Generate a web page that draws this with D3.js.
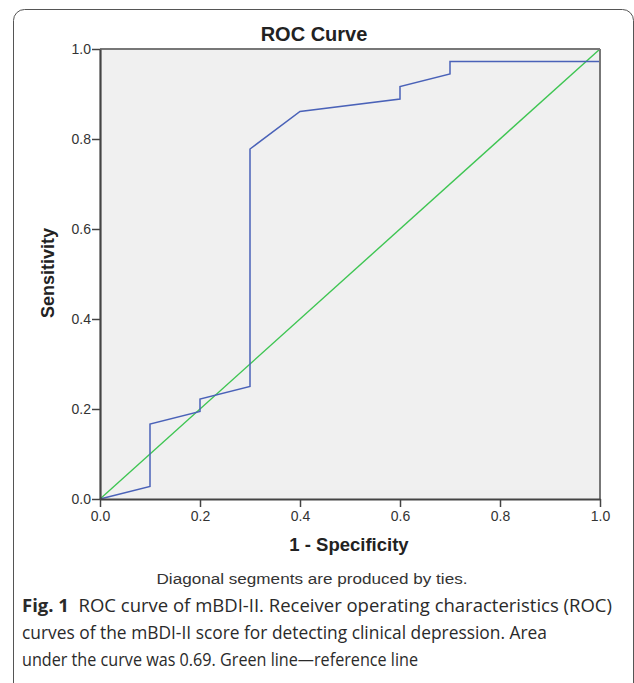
<!DOCTYPE html>
<html><head><meta charset="utf-8">
<script src="https://cdn.jsdelivr.net/npm/d3@7"></script>
<style>html,body{margin:0;padding:0;background:#fff;}svg{display:block;}
.axis text{font-family:"Liberation Sans",Arial,sans-serif;font-size:14px;fill:#333;}</style>
</head><body>
<svg id="c" width="634" height="683"></svg>
<script>
// ROC curve points (1 - Specificity, Sensitivity)
const fpr = [0, 0.1, 0.1, 0.2, 0.2, 0.3, 0.3, 0.4, 0.6, 0.6, 0.7, 0.7, 1.0, 1.0];
const tpr = [0, 1/36, 6/36, 7/36, 8/36, 9/36, 28/36, 31/36, 32/36, 33/36, 34/36, 35/36, 35/36, 1.0];
const refX = [0, 1];
const refY = [0, 1];
const tickValues = [0, 0.2, 0.4, 0.6, 0.8, 1.0];
const titleText = "ROC Curve";
const xTitle = "1 - Specificity";
const yTitle = "Sensitivity";
const note = "Diagonal segments are produced by ties.";
const captionLines = [
  ["Fig. 1", "  ROC curve of mBDI-II. Receiver operating characteristics (ROC)"],
  ["", "curves of the mBDI-II score for detecting clinical depression. Area"],
  ["", "under the curve was 0.69. Green line\u2014reference line"]
];
const captionWidths = [590, 525, 396];

const svg = d3.select("#c");
const sans = "Liberation Sans, Arial, sans-serif";
// outer frame
svg.append("rect").attr("x", 13.5).attr("y", 9.5).attr("width", 620).attr("height", 700)
  .attr("rx", 11).attr("fill", "none").attr("stroke", "#555").attr("stroke-width", 1);

const x = d3.scaleLinear().domain([0, 1]).range([100, 600]);
const y = d3.scaleLinear().domain([0, 1]).range([499, 49]);

svg.append("rect").attr("x", x(0)).attr("y", y(1)).attr("width", x(1) - x(0)).attr("height", y(0) - y(1))
  .attr("fill", "#f0f0f0");

const line = d3.line().x(d => x(d[0])).y(d => y(d[1]));
svg.append("path").datum(refX.map((v, i) => [v, refY[i]])).attr("d", line)
  .attr("fill", "none").attr("stroke", "#3ec552").attr("stroke-width", 1.4);
svg.append("path").datum(fpr.map((v, i) => [v, tpr[i]])).attr("d", line)
  .attr("fill", "none").attr("stroke", "#4a62b8").attr("stroke-width", 1.5);

// top & right frame
svg.append("line").attr("x1", x(0)).attr("x2", x(1)).attr("y1", y(1)).attr("y2", y(1))
  .attr("stroke", "#777").attr("stroke-width", 2);
svg.append("line").attr("x1", x(1)).attr("x2", x(1)).attr("y1", y(1)).attr("y2", y(0))
  .attr("stroke", "#777").attr("stroke-width", 2);

const fmt = d3.format(".1f");
const ax = svg.append("g").attr("class", "axis").attr("transform", `translate(0,${y(0)})`)
  .call(d3.axisBottom(x).tickValues(tickValues).tickFormat(fmt).tickSize(8).tickSizeOuter(0));
const ay = svg.append("g").attr("class", "axis").attr("transform", `translate(${x(0)},0)`)
  .call(d3.axisLeft(y).tickValues(tickValues).tickFormat(fmt).tickSize(8).tickSizeOuter(0));
[ax, ay].forEach(g => {
  g.attr("font-size", 14).attr("font-family", sans);
  g.select(".domain").attr("stroke", "#444").attr("stroke-width", 2.2);
  g.selectAll(".tick line").attr("stroke", "#444").attr("stroke-width", 1.5);
  g.selectAll(".tick text").attr("font-size", 14).attr("fill", "#333");
});
ax.selectAll(".tick text").attr("y", 10).attr("dy", "0.85em");
ay.selectAll(".tick text").attr("x", -9);

svg.append("text").attr("x", 314).attr("y", 41).attr("text-anchor", "middle")
  .style("font-family", sans).attr("font-weight", "bold").style("font-size", "20px")
  .attr("fill", "#222").text(titleText);
svg.append("text").attr("x", 349).attr("y", 551).attr("text-anchor", "middle")
  .style("font-family", sans).attr("font-weight", "bold").style("font-size", "18.5px")
  .attr("fill", "#222").text(xTitle);
svg.append("text").attr("transform", "translate(54,273) rotate(-90)").attr("text-anchor", "middle")
  .style("font-family", sans).attr("font-weight", "bold").style("font-size", "18px")
  .attr("fill", "#222").text(yTitle);
svg.append("text").attr("x", 312).attr("y", 584).attr("text-anchor", "middle")
  .style("font-family", sans).style("font-size", "15.5px")
  .attr("textLength", 311).attr("lengthAdjust", "spacingAndGlyphs")
  .attr("fill", "#333").text(note);

const cap = svg.append("g").style("font-family", "Open Sans, sans-serif").style("font-size", "17.5px").attr("fill", "#2a2a2a");
captionLines.forEach((l, i) => {
  const t = cap.append("text").attr("x", 22).attr("y", 612 + i * 27)
    .attr("textLength", captionWidths[i]).attr("lengthAdjust", "spacingAndGlyphs");
  if (l[0]) t.append("tspan").attr("font-weight", "bold").text(l[0]);
  t.append("tspan").style("white-space", "pre").text(l[1]);
});
</script>
</body></html>
